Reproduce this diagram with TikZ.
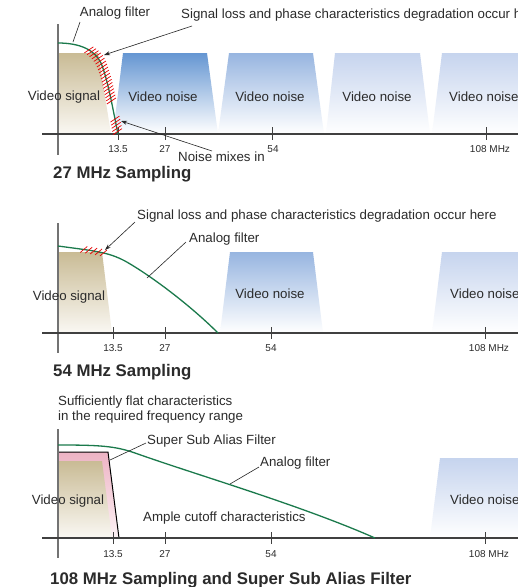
\documentclass[tikz,border=0pt]{standalone}
\usepackage{fontspec}
\setmainfont{Liberation Sans}
\usetikzlibrary{arrows.meta,decorations.markings}
\definecolor{tantop}{HTML}{C9BB95}
\definecolor{tanbot}{HTML}{FAF8F3}
\definecolor{noiseA}{HTML}{6596D2}
\definecolor{noiseB}{HTML}{97B5E0}
\definecolor{noiseC}{HTML}{C6D4EE}
\definecolor{pinktop}{HTML}{EDB3C4}
\definecolor{pinkbot}{HTML}{FDF2F5}
\definecolor{filtgreen}{HTML}{1B7A4C}
\definecolor{txt}{HTML}{2B2B2B}
\begin{document}
\begin{tikzpicture}[x=1pt,y=-1pt,
  lbl/.style={font=\fontsize{13.3}{15}\selectfont, inner sep=0pt, text=txt},
  ticklbl/.style={font=\fontsize{10}{12}\selectfont, inner sep=0pt, text=txt},
  ttl/.style={font=\fontsize{16.8}{19}\selectfont\bfseries, inner sep=0pt, anchor=west, text=txt},
  haxis/.style={draw=black!75, line width=1.2pt},
  vaxis/.style={draw=black!55, line width=2pt},
  tickmark/.style={draw=black!75, line width=0.9pt},
  filt/.style={draw=filtgreen, line width=1.3pt},
  lead/.style={draw=black!85, line width=0.6pt},
  arr/.style={lead, -{Stealth[length=6pt,width=4pt]}},
  hatchline/.style={draw=red!90!black, line width=0.7pt},
]
\clip (0,0) rectangle (518,587);
\fill[white] (0,0) rectangle (518,587);

% ================= Panel 1: 27 MHz =================
\shade[top color=tantop, bottom color=tanbot] (58,53) -- (98,53) -- (111,134) -- (58,134) -- cycle;
\shade[top color=noiseA, bottom color=white] (123,53) -- (207,53) -- (218,134) -- (113,134) -- cycle;
\shade[top color=noiseB, bottom color=white] (229,53) -- (313,53) -- (324,134) -- (218,134) -- cycle;
\shade[top color=noiseC, bottom color=white] (335,53) -- (420,53) -- (430,134) -- (326,134) -- cycle;
\shade[top color=noiseC, bottom color=white] (442,53) -- (530,53) -- (530,134) -- (432,134) -- cycle;

\draw[vaxis] (58,24) -- (58,155);
\draw[haxis] (42,134) -- (518,134);
\foreach \x in {118,165,272,486} \draw[tickmark] (\x,127) -- (\x,140);
\node[ticklbl] (t1a) at (118,149) {13.5};
\node[ticklbl] (t1b) at (165,149) {27};
\node[ticklbl] (t1c) at (273,149) {54};
\node[ticklbl] (t1d) at (490,149) {108 MHz};

\node[lbl] (vs1) at (64,97) {Video signal};
\node[lbl] (vn1a) at (163,97) {Video noise};
\node[lbl] (vn1b) at (270,97) {Video noise};
\node[lbl] (vn1c) at (377,97) {Video noise};
\node[lbl, anchor=west] (vn1d) at (449,97) {Video noise};

\draw[filt, postaction={decorate, decoration={markings,
   mark=between positions 32pt and 92pt step 3.2pt with {\pgftransformresetnontranslations \draw[hatchline] (-4.5pt,-3pt) -- (4.5pt,3pt);},
   mark=between positions 108pt and 122pt step 3.2pt with {\pgftransformresetnontranslations \draw[hatchline] (-4.5pt,-3pt) -- (4.5pt,3pt);}}}]
  (58,43) .. controls (80,43) and (95,50) .. (101,63) .. controls (108,80) and (113,110) .. (118,134);

\node[lbl] (af1) at (115,13) {Analog filter};
\coordinate (af1s) at (80,22);
\coordinate (af1e) at (73,42);
\draw[lead] (af1s) -- (af1e);
\node[lbl, anchor=west] (sl1) at (181,15) {Signal loss and phase characteristics degradation occur here};
\coordinate (sl1e) at (104,55);
\coordinate (sl1s) at (192,26);
\draw[arr] (sl1s) -- (sl1e);
\node[lbl, anchor=west] (nm1) at (178,157) {Noise mixes in};
\coordinate (nm1s) at (212,151);
\coordinate (nm1e) at (121,121);
\draw[arr] (nm1s) -- (nm1e);

\node[ttl] (title1) at (53,174) {27 MHz Sampling};

% ================= Panel 2: 54 MHz =================
\shade[top color=tantop, bottom color=tanbot] (58,252) -- (102,252) -- (112,333) -- (58,333) -- cycle;
\shade[top color=noiseB, bottom color=white] (230,252) -- (313,252) -- (323,333) -- (220,333) -- cycle;
\shade[top color=noiseC, bottom color=white] (442,252) -- (530,252) -- (530,333) -- (432,333) -- cycle;

\draw[vaxis] (58,223) -- (58,353);
\draw[haxis] (42,333) -- (518,333);
\foreach \x in {113,165,271,485} \draw[tickmark] (\x,327) -- (\x,339);
\node[ticklbl] (t2a) at (113,348) {13.5};
\node[ticklbl] (t2b) at (165,348) {27};
\node[ticklbl] (t2c) at (271,348) {54};
\node[ticklbl] (t2d) at (489,348) {108 MHz};

\node[lbl] (vs2) at (69,297) {Video signal};
\node[lbl] (vn2a) at (270,294) {Video noise};
\node[lbl, anchor=west] (vn2b) at (450,294) {Video noise};

\draw[filt, postaction={decorate, decoration={markings,
   mark=between positions 26pt and 49pt step 5pt with {\pgftransformresetnontranslations \draw[hatchline] (-3.5pt,-3pt) -- (3.5pt,3pt);}}}]
  (58,246) .. controls (95,251) and (108,252) .. (125,261) .. controls (150,275) and (190,305) .. (218,333);

\node[lbl, anchor=west] (sl2) at (137,216) {Signal loss and phase characteristics degradation occur here};
\coordinate (sl2s) at (135,222);
\coordinate (sl2e) at (105,250);
\draw[arr] (sl2s) -- (sl2e);
\node[lbl, anchor=west] (af2) at (189,239) {Analog filter};
\coordinate (af2s) at (186,242);
\coordinate (af2e) at (147,278);
\draw[lead] (af2s) -- (af2e);

\node[ttl] (title2) at (53,372) {54 MHz Sampling};

% ================= Panel 3: 108 MHz =================
\shade[top color=pinktop, bottom color=pinkbot] (58,452) -- (108,452) -- (119,538) -- (58,538) -- cycle;
\shade[top color=tantop, bottom color=tanbot] (58,461) -- (102,461) -- (112,538) -- (58,538) -- cycle;
\draw[black, line width=1pt] (58,452) -- (108,452) -- (119,538);
\shade[top color=noiseC, bottom color=white] (440,458) -- (530,458) -- (530,538) -- (430,538) -- cycle;

\draw[vaxis] (58,429) -- (58,558);
\draw[haxis] (42,538) -- (518,538);
\foreach \x in {113,165,271,485} \draw[tickmark] (\x,532) -- (\x,544);
\node[ticklbl] (t3a) at (113,554) {13.5};
\node[ticklbl] (t3b) at (165,554) {27};
\node[ticklbl] (t3c) at (271,554) {54};
\node[ticklbl] (t3d) at (489,554) {108 MHz};

\draw[filt] (58,445) .. controls (100,445) and (115,446) .. (135,453) .. controls (200,476) and (300,505) .. (375,538);

\node[lbl, anchor=west] (sf3a) at (58,402) {Sufficiently flat characteristics};
\node[lbl, anchor=west] (sf3b) at (58,417) {in the required frequency range};
\node[lbl, anchor=west] (ss3) at (147,441) {Super Sub Alias Filter};
\coordinate (ss3s) at (146,443);
\coordinate (ss3e) at (110,460);
\draw[lead] (ss3s) -- (ss3e);
\node[lbl, anchor=west] (af3) at (260,463) {Analog filter};
\coordinate (af3s) at (259,467);
\coordinate (af3e) at (230,484);
\draw[lead] (af3s) -- (af3e);
\node[lbl, anchor=west] (ac3) at (143,518) {Ample cutoff characteristics};
\node[lbl] (vs3) at (68,501) {Video signal};
\node[lbl, anchor=west] (vn3) at (450,500) {Video noise};

\node[ttl] (title3) at (50,580) {108 MHz Sampling and Super Sub Alias Filter};
\end{tikzpicture}
\end{document}
